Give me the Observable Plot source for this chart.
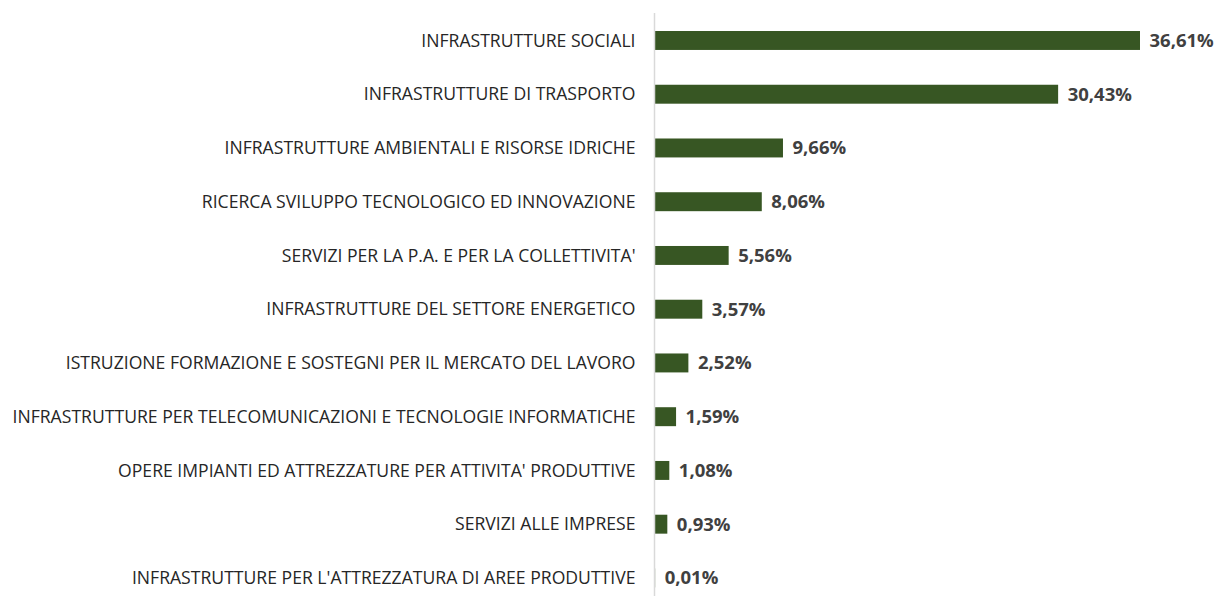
<!DOCTYPE html>
<html>
<head>
<meta charset="utf-8">
<script src="https://cdn.jsdelivr.net/npm/d3@7"></script>
<script src="https://cdn.jsdelivr.net/npm/@observablehq/plot@0.6"></script>
<style>
  html, body { margin: 0; padding: 0; background: #fff; overflow: hidden; }
  #chart svg { display: block; }
</style>
</head>
<body>
<div id="chart"></div>
<script>
const categories = [
  "INFRASTRUTTURE SOCIALI",
  "INFRASTRUTTURE DI TRASPORTO",
  "INFRASTRUTTURE AMBIENTALI E RISORSE IDRICHE",
  "RICERCA SVILUPPO TECNOLOGICO ED INNOVAZIONE",
  "SERVIZI PER LA P.A. E PER LA COLLETTIVITA'",
  "INFRASTRUTTURE DEL SETTORE ENERGETICO",
  "ISTRUZIONE FORMAZIONE E SOSTEGNI PER IL MERCATO DEL LAVORO",
  "INFRASTRUTTURE PER TELECOMUNICAZIONI E TECNOLOGIE INFORMATICHE",
  "OPERE IMPIANTI ED ATTREZZATURE PER ATTIVITA' PRODUTTIVE",
  "SERVIZI ALLE IMPRESE",
  "INFRASTRUTTURE PER L'ATTREZZATURA DI AREE PRODUTTIVE"
];
const values = [36.61, 30.43, 9.66, 8.06, 5.56, 3.57, 2.52, 1.59, 1.08, 0.93, 0.01];

const data = categories.map((c, i) => ({category: c, value: values[i]}));
const fmt = v => v.toFixed(2).replace(".", ",") + "%";

const chart = Plot.plot({
  width: 1218,
  height: 596,
  marginLeft: 655,
  marginRight: 78,
  marginTop: 13,
  marginBottom: 0,
  style: {fontFamily: "'Open Sans', sans-serif", background: "#fff", overflow: "hidden"},
  x: {domain: [0, 36.61], axis: null},
  y: {domain: categories, padding: 0, round: false, range: [13.6, 604.8], label: null},
  marks: [
    Plot.barX(data, {y: "category", x: "value", fill: "#375623", insetTop: 17.4, insetBottom: 17.4}),
    Plot.ruleX([0], {stroke: "#d9d9d9", strokeWidth: 1.5, dx: -1}),
    Plot.axisY({tickSize: 0, tickPadding: 20, fontSize: 17.6, fill: "#262626", label: null}),
    Plot.text(data, {y: "category", x: "value", text: d => fmt(d.value), dx: 9, textAnchor: "start", fontSize: 18.5, fontWeight: "bold", fill: "#404040"})
  ]
});
document.getElementById("chart").appendChild(chart);
</script>
</body>
</html>
